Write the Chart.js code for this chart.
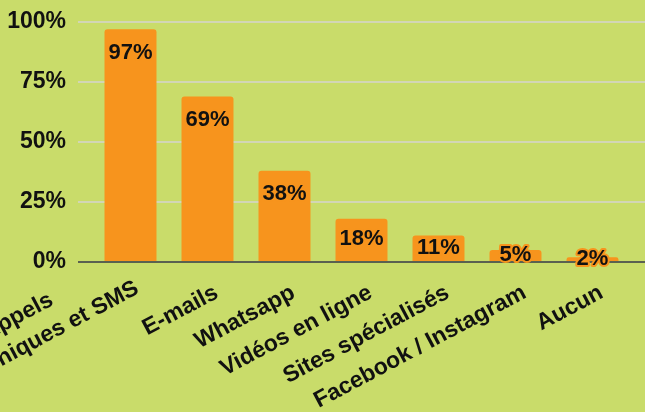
<!DOCTYPE html>
<html>
<head>
<meta charset="utf-8">
<script src="https://cdn.jsdelivr.net/npm/chart.js@4.4.0/dist/chart.umd.min.js"></script>
<style>
  html, body { margin: 0; padding: 0; background: #c9dc6a; }
  #wrap { width: 645px; height: 412px; position: relative; }
</style>
</head>
<body>
<div id="wrap"><canvas id="c"></canvas></div>
<script>
const categories = [["Appels", "téléphoniques et SMS"], "E-mails", "Whatsapp", "Vidéos en ligne", "Sites spécialisés", "Facebook / Instagram", "Aucun"];
const values = [97, 69, 38, 18, 11, 5, 2];
const valueLabels = ["97%", "69%", "38%", "18%", "11%", "5%", "2%"];
const yTickValues = [0, 25, 50, 75, 100];
const yTickLabels = ["0%", "25%", "50%", "75%", "100%"];

const BG = '#c9dc6a';
const BAR = '#f7941d';
const FONT = '"Liberation Sans", Arial, sans-serif';

const customPlugin = {
  id: 'custom',
  beforeDatasetsDraw(chart) {
    const { ctx, scales: { y } } = chart;
    ctx.save();
    ctx.strokeStyle = '#d5d5cf';
    ctx.lineWidth = 1.5;
    yTickValues.forEach(v => {
      if (v === 0) return;
      const py = y.getPixelForValue(v);
      ctx.beginPath();
      ctx.moveTo(78, py);
      ctx.lineTo(chart.width, py);
      ctx.stroke();
    });
    ctx.restore();
  },
  afterDatasetsDraw(chart) {
    const { ctx, scales: { x, y } } = chart;
    const base = y.getPixelForValue(0);
    ctx.save();
    ctx.strokeStyle = '#5a6150';
    ctx.lineWidth = 2;
    ctx.beginPath();
    ctx.moveTo(78, base);
    ctx.lineTo(chart.width, base);
    ctx.stroke();

    const meta = chart.getDatasetMeta(0);
    ctx.font = 'bold 22px ' + FONT;
    ctx.textAlign = 'center';
    ctx.textBaseline = 'middle';
    ctx.lineJoin = 'round';
    meta.data.forEach((bar, i) => {
      const top = bar.y;
      const ly = Math.min(top + 23.5, (top + base) / 2 - 1);
      ctx.strokeStyle = BAR;
      ctx.lineWidth = 4;
      ctx.strokeText(valueLabels[i], bar.x, ly);
      ctx.fillStyle = '#111';
      ctx.fillText(valueLabels[i], bar.x, ly);
    });

    const ang = -28 * Math.PI / 180;
    const LH = 30;
    ctx.font = 'bold 23px ' + FONT;
    ctx.fillStyle = '#111';
    ctx.textBaseline = 'alphabetic';
    categories.forEach((lab, i) => {
      const lines = Array.isArray(lab) ? lab : [lab];
      const n = lines.length;
      const cx = x.getPixelForValue(i);
      const widths = lines.map(l => ctx.measureText(l).width);
      const maxW = Math.max(...widths);
      ctx.save();
      ctx.translate(cx + 12, base + 35);
      ctx.rotate(ang);
      lines.forEach((l, k) => {
        const vOff = (k - (n - 1)) * LH - (n - 1) * 5;
        ctx.textAlign = 'center';
        ctx.fillText(l, -maxW / 2, vOff);
      });
      ctx.restore();
    });
    ctx.restore();
  }
};

new Chart(document.getElementById('c'), {
  type: 'bar',
  data: {
    labels: categories,
    datasets: [{
      data: values,
      backgroundColor: BAR,
      borderRadius: 3,
      categoryPercentage: 1,
      barPercentage: 0.675
    }]
  },
  options: {
    responsive: true,
    maintainAspectRatio: false,
    animation: false,
    layout: { padding: { top: 22, right: 14, bottom: 150, left: 0 } },
    plugins: { legend: { display: false }, tooltip: { enabled: false } },
    scales: {
      x: { display: false, offset: true },
      y: {
        min: 0,
        max: 100,
        afterBuildTicks: s => { s.ticks = yTickValues.map(v => ({ value: v })); },
        afterFit: s => { s.width = 92; s.paddingTop = 0; s.paddingBottom = 0; },
        grid: { display: false, drawTicks: false },
        border: { display: false },
        ticks: {
          padding: 26,
          color: '#111',
          font: { family: FONT, size: 23, weight: 'bold' },
          callback: (v, i) => yTickLabels[yTickValues.indexOf(v)]
        }
      }
    }
  },
  plugins: [customPlugin]
});
</script>
</body>
</html>
